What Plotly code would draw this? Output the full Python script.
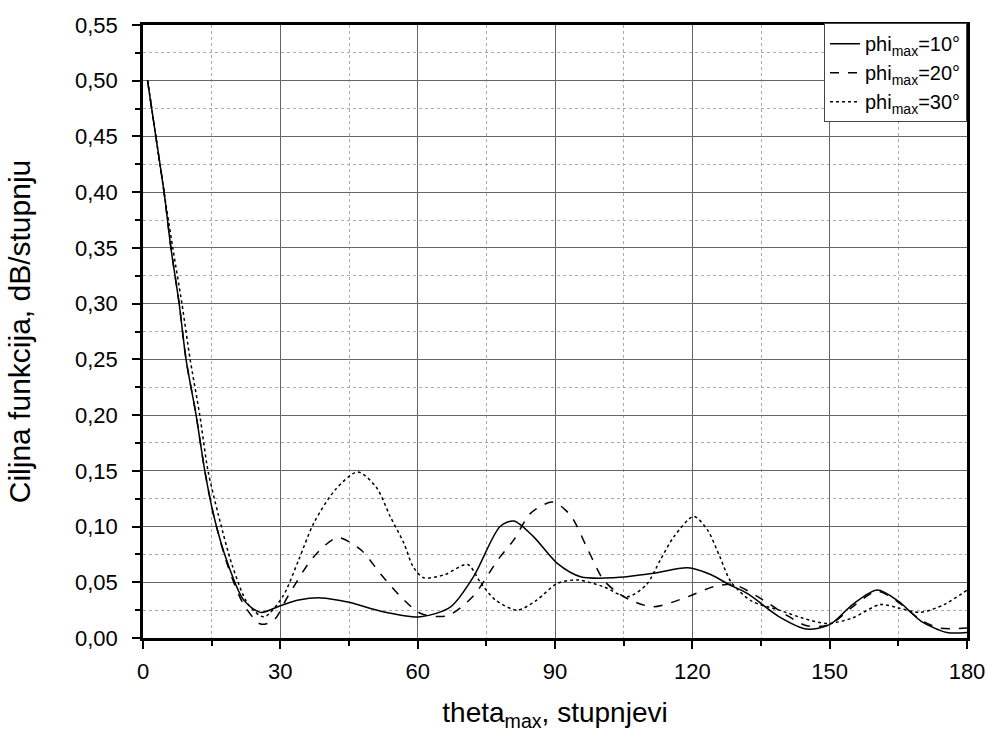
import plotly.graph_objects as go

# phi_max = 10°
x10 = [1, 2.8, 4.6, 6.1, 7.9, 9.4, 11.6, 13.5, 15.5, 18.5, 22, 25.7, 30, 34, 38.8, 45, 52,
       60.6, 67.2, 72.2, 78, 81, 85.3, 90.5, 95.6, 102.8, 111.5, 119, 124, 128, 132, 139,
       145, 150, 155, 160.4, 165, 170, 175.6, 180]
y10 = [0.50, 0.45, 0.40, 0.35, 0.30, 0.25, 0.20, 0.15, 0.109, 0.067, 0.034, 0.023, 0.029,
       0.034, 0.036, 0.032, 0.024, 0.019, 0.028, 0.055, 0.100, 0.105, 0.091, 0.067, 0.055,
       0.054, 0.058, 0.063, 0.057, 0.048, 0.040, 0.019, 0.008, 0.012, 0.030, 0.043, 0.033,
       0.015, 0.005, 0.005]

# phi_max = 20°
x20 = [1, 2.8, 4.6, 6.1, 7.9, 9.4, 11.6, 13.5, 15.5, 18.5, 22, 25.7, 28.6, 31.6, 37.3,
       42.5, 47.6, 52, 56.3, 60.7, 66.5, 72, 77.5, 81, 84.7, 89.5, 93.4, 97.1, 100.6, 103.6,
       106.5, 111.5, 119, 124.6, 129, 135.5, 140, 145, 150, 155, 160.4, 165, 170, 174, 180]
y20 = [0.50, 0.45, 0.40, 0.35, 0.30, 0.25, 0.20, 0.15, 0.109, 0.065, 0.030, 0.0125, 0.016,
       0.037, 0.073, 0.090, 0.079, 0.057, 0.037, 0.022, 0.020, 0.037, 0.070, 0.088, 0.112,
       0.122, 0.110, 0.080, 0.052, 0.041, 0.034, 0.028, 0.037, 0.046, 0.048, 0.034, 0.022,
       0.011, 0.012, 0.028, 0.042, 0.032, 0.016, 0.009, 0.009]

# phi_max = 30°
x30 = [1, 2.8, 4.6, 6.5, 8.5, 10.3, 12.4, 14.2, 16.5, 19.5, 23, 26.4, 30.5, 34, 37.3, 42,
       46.9, 51, 54, 57, 59, 61.3, 66, 70.9, 73.7, 77, 81.8, 86, 90.5, 95, 100.6, 105.8,
       110, 113, 116, 120.3, 123.3, 126, 128.5, 133, 139, 144, 149.5, 155, 161, 165, 169.8,
       175, 180]
y30 = [0.50, 0.45, 0.40, 0.35, 0.30, 0.25, 0.20, 0.15, 0.11, 0.065, 0.030, 0.019, 0.037,
       0.070, 0.103, 0.133, 0.149, 0.135, 0.109, 0.085, 0.064, 0.054, 0.057, 0.066, 0.050,
       0.034, 0.025, 0.034, 0.049, 0.052, 0.046, 0.037, 0.048, 0.070, 0.091, 0.109, 0.097,
       0.073, 0.050, 0.033, 0.025, 0.018, 0.013, 0.018, 0.030, 0.027, 0.023, 0.030, 0.043]

names = ["phi<sub>max</sub>=10°", "phi<sub>max</sub>=20°", "phi<sub>max</sub>=30°"]
dashes = ["solid", "dash", "dot"]

fig = go.Figure()
for xs, ys, nm, ds in zip([x10, x20, x30], [y10, y20, y30], names, dashes):
    fig.add_trace(go.Scatter(x=xs, y=ys, mode="lines", name=nm,
                             line=dict(color="black", width=1.5, dash=ds,
                                       shape="spline", smoothing=0.8)))

font_family = "Liberation Sans, Arial, sans-serif"
axis_common = dict(
    showline=True, linecolor="black", linewidth=2.5, mirror=True,
    ticks="outside", ticklen=8, tickwidth=2, tickcolor="black",
    showgrid=True, gridcolor="#666666", gridwidth=1,
    zeroline=False, automargin=False,
    tickfont=dict(size=22, color="black", family=font_family),
)

fig.update_xaxes(
    range=[0, 180], dtick=30, tick0=0,
    minor=dict(dtick=15, ticks="outside", ticklen=5, tickwidth=2, tickcolor="black",
               showgrid=True, gridcolor="#aaaaaa", griddash="dot", gridwidth=1),
    title=dict(text="theta<sub>max</sub>, stupnjevi",
               font=dict(size=28, color="black", family=font_family), standoff=20),
    ticklabelstandoff=4,
    **axis_common)
fig.update_yaxes(
    range=[0, 0.55], dtick=0.05, tick0=0, tickformat=".2f",
    minor=dict(dtick=0.025, ticks="outside", ticklen=5, tickwidth=2, tickcolor="black",
               showgrid=True, gridcolor="#aaaaaa", griddash="dot", gridwidth=1),
    title=dict(text="Ciljna funkcija, dB/stupnju",
               font=dict(size=30, color="black", family=font_family), standoff=36),
    ticklabelstandoff=10,
    **axis_common)

fig.update_layout(
    width=986, height=733,
    margin=dict(l=143, r=19, t=25, b=95, autoexpand=False),
    paper_bgcolor="white", plot_bgcolor="white",
    separators=", ",
    font=dict(family=font_family, color="black"),
    showlegend=True,
    legend=dict(x=1, y=1.003, xanchor="right", yanchor="top",
                bgcolor="white", bordercolor="#444444", borderwidth=1,
                font=dict(size=20, color="black", family=font_family),
                tracegroupgap=0),
)

fig.write_html("out.html",
               config={"displayModeBar": False},
               post_script="document.body.style.margin='0px';document.body.style.overflow='hidden';")
